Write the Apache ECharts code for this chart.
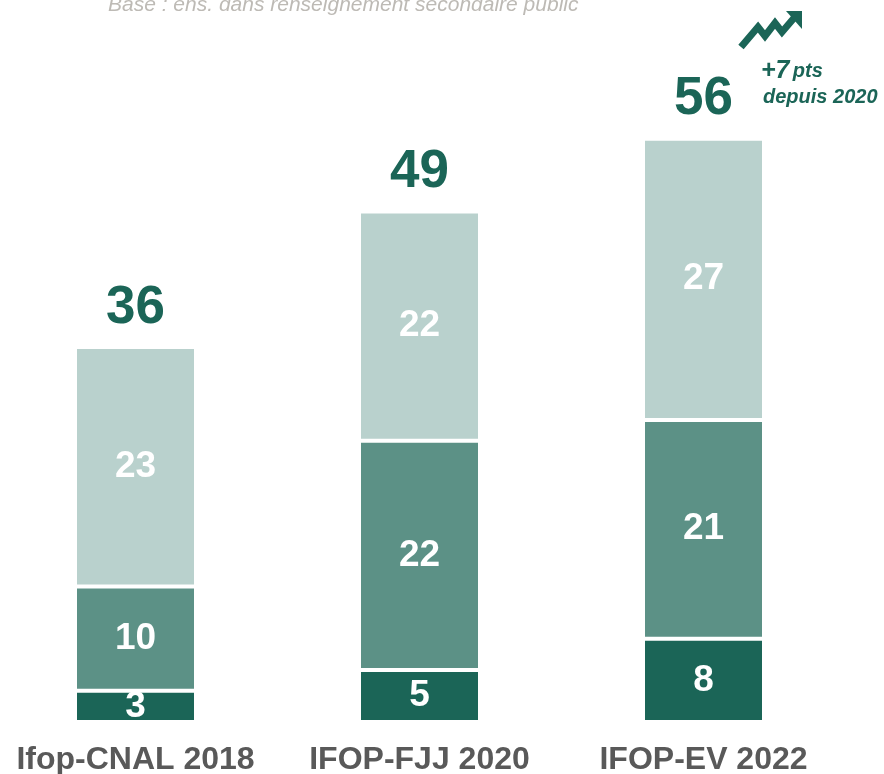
<!DOCTYPE html>
<html>
<head>
<meta charset="utf-8">
<script src="https://cdn.jsdelivr.net/npm/echarts@6/dist/echarts.min.js"></script>
<style>
  html, body { margin: 0; padding: 0; background: #fff; }
  #chart { width: 884px; height: 774px; }
</style>
</head>
<body>
<div id="chart"></div>
<script>
// data
const categories = ['Ifop-CNAL 2018', 'IFOP-FJJ 2020', 'IFOP-EV 2022'];
const bottomValues = [3, 5, 8];
const middleValues = [10, 22, 21];
const topValues = [23, 22, 27];
const totals = [36, 49, 56];

const FONT = "'Liberation Sans', Arial, sans-serif";
const DARK = '#1b6557';
const MID = '#5c9186';
const LIGHT = '#b9d1cd';

const chart = echarts.init(document.getElementById('chart'));

function segment(name, data, color) {
  return {
    name: name,
    type: 'bar',
    stack: 'total',
    barWidth: 121,
    data: data,
    itemStyle: { color: color, borderColor: '#fff', borderWidth: 2 },
    label: {
      show: true,
      position: 'inside',
      color: '#fff',
      fontFamily: FONT,
      fontWeight: 'bold',
      fontSize: 37
    },
    emphasis: { disabled: true }
  };
}

chart.setOption({
  animation: false,
  grid: { left: -6.5, right: 38.5, top: 97, bottom: 52, containLabel: false, outerBoundsMode: 'none' },
  xAxis: {
    type: 'category',
    data: categories,
    axisLine: { show: false },
    axisTick: { show: false },
    axisLabel: {
      interval: 0,
      hideOverlap: false,
      margin: 22,
      color: '#595959',
      fontFamily: FONT,
      fontWeight: 'bold',
      fontSize: 32
    }
  },
  yAxis: {
    type: 'value',
    min: 0,
    max: 60,
    show: false,
    splitLine: { show: false }
  },
  series: [
    segment('bas', bottomValues, DARK),
    segment('milieu', middleValues, MID),
    segment('haut', topValues, LIGHT),
    {
      name: 'total',
      type: 'scatter',
      data: totals,
      symbolSize: 1,
      itemStyle: { color: 'rgba(0,0,0,0)', opacity: 1 },
      label: {
        show: true,
        position: 'top',
        distance: 12,
        color: DARK,
        fontFamily: FONT,
        fontWeight: 'bold',
        fontSize: 53
      },
      emphasis: { disabled: true },
      z: 5
    }
  ],
  graphic: [
    {
      type: 'text',
      x: 108,
      y: 5,
      style: {
        text: 'Base : ens. dans renseignement secondaire public',
        font: 'italic 21px ' + FONT,
        fill: '#bdbab5',
        verticalAlign: 'middle'
      }
    },
    {
      type: 'polyline',
      shape: { points: [[741, 47], [758, 27], [765, 36], [775, 23], [782, 32], [794, 18]] },
      style: { stroke: DARK, lineWidth: 7, fill: null, lineJoin: 'miter' }
    },
    {
      type: 'polygon',
      shape: { points: [[786, 11], [802, 11], [802, 29]] },
      style: { fill: DARK }
    },
    {
      type: 'text',
      x: 761,
      y: 71,
      style: {
        text: '{a|+7} {b|pts}',
        verticalAlign: 'middle',
        fill: DARK,
        rich: {
          a: { fontFamily: FONT, fontWeight: 'bold', fontStyle: 'italic', fontSize: 25, fill: DARK },
          b: { fontFamily: FONT, fontWeight: 'bold', fontStyle: 'italic', fontSize: 20, fill: DARK }
        }
      }
    },
    {
      type: 'text',
      x: 763,
      y: 97,
      style: {
        text: 'depuis 2020',
        font: 'italic bold 20px ' + FONT,
        fill: DARK,
        verticalAlign: 'middle'
      }
    }
  ]
});

window.addEventListener('resize', function () {
  chart.resize();
});
</script>
</body>
</html>
